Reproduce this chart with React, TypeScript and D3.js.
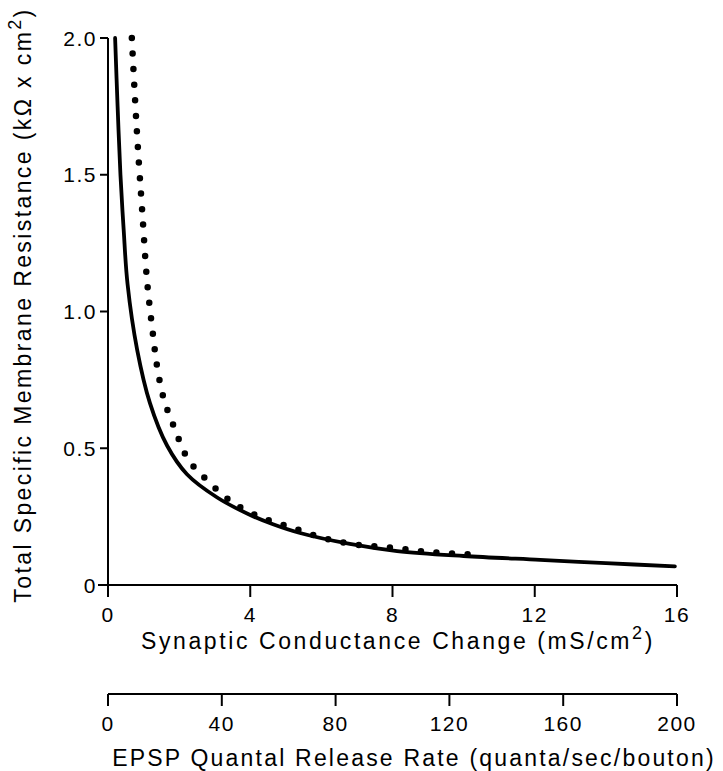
import React from "react";
import * as d3 from "d3";

const solidX = [0.2, 0.27, 0.35, 0.44, 0.55, 0.82, 1.18, 1.66, 2.22, 3.07, 4.0, 4.64, 5.4, 6.8, 8.13, 10, 12.15, 14, 15.94];
const solidY = [2.0, 1.75, 1.5, 1.3, 1.1, 0.86, 0.665, 0.51, 0.405, 0.32, 0.256, 0.222, 0.19, 0.15, 0.124, 0.106, 0.092, 0.08, 0.068];

const dotX = [0.67, 0.75, 0.84, 0.96, 1.10, 1.27, 1.38, 1.57, 1.88, 2.25, 2.81, 3.52, 4.33, 5.2, 6.13, 7.03, 8.01, 8.97, 9.87, 10.35];
const dotY = [2.0, 1.80, 1.60, 1.37, 1.11, 0.91, 0.80, 0.68, 0.57, 0.46, 0.38, 0.30, 0.246, 0.209, 0.169, 0.147, 0.136, 0.121, 0.114, 0.110];

const xTicks = [0, 4, 8, 12, 16];
const yTicks = [0, 0.5, 1.0, 1.5, 2.0];
const yTickLabels = ["0", "0.5", "1.0", "1.5", "2.0"];
const rateTicks = [0, 40, 80, 120, 160, 200];

const W = 723;
const H = 771;
const FONT = "'Liberation Sans', Arial, Helvetica, sans-serif";

export default function App() {
  const x = d3.scaleLinear().domain([0, 16]).range([108, 677]);
  const y = d3.scaleLinear().domain([0, 2]).range([585, 38]);
  const xr = d3.scaleLinear().domain([0, 200]).range([108, 677]);
  const bottomY = 694;

  const line = d3
    .line<[number, number]>()
    .x((d) => x(d[0]))
    .y((d) => y(d[1]))
    .curve(d3.curveCatmullRom.alpha(0.5));

  const solidPts = solidX.map((v, i) => [v, solidY[i]] as [number, number]);
  const dotPts = dotX.map((v, i) => [v, dotY[i]] as [number, number]);

  return (
    <svg
      width={W}
      height={H}
      style={{ position: "absolute", left: 0, top: 0, background: "#fff" }}
      fontFamily={FONT}
    >
      <rect x={0} y={0} width={W} height={H} fill="#fff" />
      {/* y axis */}
      <line x1={x(0)} x2={x(0)} y1={y(0)} y2={y(2)} stroke="#000" strokeWidth={2} />
      {yTicks.map((t, i) => (
        <g key={"yt" + i}>
          <line x1={x(0) - 8} x2={x(0)} y1={y(t)} y2={y(t)} stroke="#000" strokeWidth={2} />
          <text
            x={x(0) - 11}
            y={y(t)}
            dy="0.36em"
            textAnchor="end"
            fontSize={21}
            letterSpacing={1.5}
          >
            {yTickLabels[i]}
          </text>
        </g>
      ))}
      {/* x axis */}
      <line x1={x(0) - 10} x2={x(16)} y1={y(0)} y2={y(0)} stroke="#000" strokeWidth={2} />
      {xTicks.map((t) => (
        <g key={"xt" + t}>
          <line x1={x(t)} x2={x(t)} y1={y(0)} y2={y(0) + 12} stroke="#000" strokeWidth={2} />
          <text x={x(t)} y={622} textAnchor="middle" fontSize={21} letterSpacing={1.5}>
            {t}
          </text>
        </g>
      ))}
      <text x={398} y={649} textAnchor="middle" fontSize={23} letterSpacing={2.6}>
        Synaptic Conductance Change (mS/cm
        <tspan dy={-10} fontSize={18}>2</tspan>
        <tspan dy={10}>)</tspan>
      </text>

      {/* bottom axis */}
      <line x1={xr(0)} x2={xr(200)} y1={bottomY} y2={bottomY} stroke="#000" strokeWidth={2} />
      {rateTicks.map((t) => (
        <g key={"rt" + t}>
          <line x1={xr(t)} x2={xr(t)} y1={bottomY} y2={bottomY + 12} stroke="#000" strokeWidth={2} />
          <text x={xr(t)} y={731} textAnchor="middle" fontSize={21} letterSpacing={1.5}>
            {t}
          </text>
        </g>
      ))}
      <text x={414} y={766} textAnchor="middle" fontSize={23} letterSpacing={2.2}>
        EPSP Quantal Release Rate (quanta/sec/bouton)
      </text>

      {/* y title */}
      <text
        transform="translate(31,305) rotate(-90)"
        textAnchor="middle"
        fontSize={23}
        letterSpacing={2.4}
      >
        Total Specific Membrane Resistance (kΩ x cm
        <tspan dy={-10} fontSize={18}>2</tspan>
        <tspan dy={10}>)</tspan>
      </text>

      {/* curves */}
      <path d={line(solidPts) || ""} fill="none" stroke="#000" strokeWidth={3.8} strokeLinejoin="round" strokeLinecap="round" />
      <path
        d={line(dotPts) || ""}
        fill="none"
        stroke="#000"
        strokeWidth={6.5}
        strokeLinecap="round"
        strokeDasharray="0 15.6"
      />
    </svg>
  );
}
